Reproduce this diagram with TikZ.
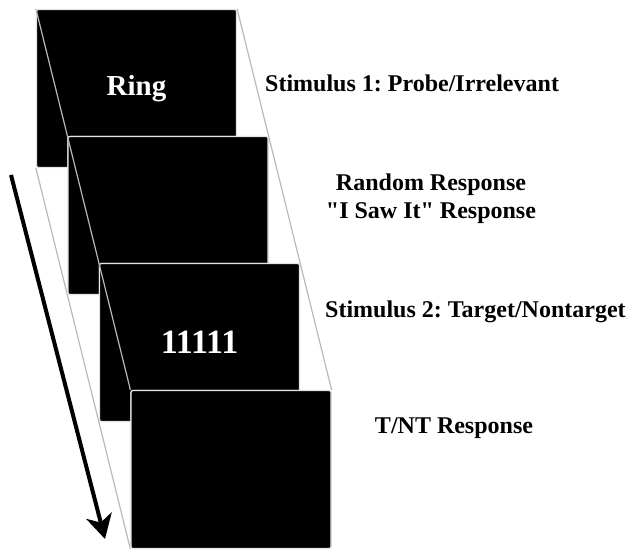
\documentclass[tikz,border=0pt]{standalone}
\usepackage{fontspec}
\setmainfont{Liberation Serif}
\usepackage{tikz}
\usetikzlibrary{positioning}
\usetikzlibrary{calc,arrows.meta}
\frenchspacing

\begin{document}
\begin{tikzpicture}[x=1bp, y=-1bp,
Cnode/.style={rectangle, fill=black, draw=gray!20, line width=1.2bp, rounded corners=2bp, minimum width=200bp, minimum height=158bp, inner sep=0pt, text=white, font=\bfseries\fontsize{29bp}{32bp}\selectfont},
Lnode/.style={align=center, inner sep=0pt, font=\bfseries\fontsize{24bp}{28bp}\selectfont},
Enode/.style={draw=gray!55, line width=1.2bp}
]
\useasboundingbox (0,0) rectangle (632,550);

%Cards and lines
\node[Cnode] (C1) at (136.5,88.5) {Ring};
\node[Cnode] (C2) at (168,215.5) {};
\draw[Enode] (C1.north west) -- (C2.north west);
\draw[Enode] (C1.north east) -- (C2.north east);
\draw[Enode] (C1.south west) -- (C2.south west);
\node[Cnode] (C2) at (168,215.5) {};

\node[Cnode, font=\bfseries\fontsize{34bp}{36bp}\selectfont] (C3) at (199.5,342.5) {11111};
\draw[Enode] (C2.north west) -- (C3.north west);
\draw[Enode] (C2.north east) -- (C3.north east);
\draw[Enode] (C2.south west) -- (C3.south west);
\node[Cnode, font=\bfseries\fontsize{34bp}{36bp}\selectfont] (C3) at (199.5,342.5) {11111};

\node[Cnode] (C4) at (231,469.5) {};
\draw[Enode] (C3.north west) -- (C4.north west);
\draw[Enode] (C3.north east) -- (C4.north east);
\draw[Enode] (C3.south west) -- (C4.south west);
\node[Cnode] (C4) at (231,469.5) {};

%Labels
\node[Lnode, anchor=west] (L1) at (265,83) {Stimulus 1: Probe/Irrelevant};
\node[Lnode] (L2) at (431,199) {Random Response\\\textquotedbl I Saw It\textquotedbl{} Response};
\node[Lnode, anchor=west] (L3) at (325,312) {Stimulus 2: Target/Nontarget};
\node[Lnode] (L4) at (454,428) {T/NT Response};

%Arrow
\coordinate (A0) at (11,175);
\coordinate (A1) at (105,539);
\draw[line width=4bp, -{Stealth[length=24bp, width=26bp, inset=7bp]}] (A0) -- (A1);
\end{tikzpicture}
\end{document}
